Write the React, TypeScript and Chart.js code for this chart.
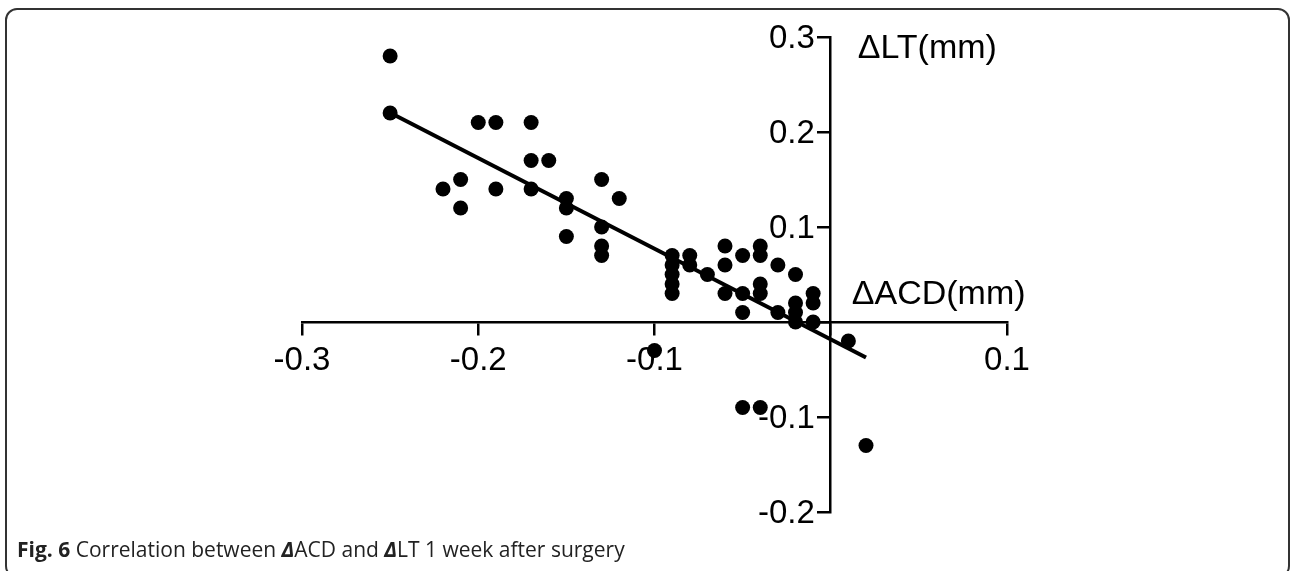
import React, { useEffect, useRef } from "react";
import { Chart, registerables } from "chart.js";

Chart.register(...registerables);

// ΔACD (mm) values, x axis
const deltaACD: number[] = [
  -0.25, -0.25, -0.2, -0.19, -0.17, -0.17, -0.16, -0.21, -0.22, -0.21,
  -0.19, -0.17, -0.15, -0.15, -0.13, -0.12, -0.15, -0.13, -0.13, -0.13,
  -0.09, -0.09, -0.09, -0.09, -0.09, -0.08, -0.08, -0.07, -0.06, -0.06,
  -0.06, -0.05, -0.05, -0.05, -0.04, -0.04, -0.04, -0.04, -0.03, -0.03,
  -0.02, -0.02, -0.02, -0.02, -0.01, -0.01, -0.01, 0.01, -0.1, -0.05,
  -0.04, 0.02,
];

// ΔLT (mm) values, y axis
const deltaLT: number[] = [
  0.28, 0.22, 0.21, 0.21, 0.21, 0.17, 0.17, 0.15, 0.14, 0.12,
  0.14, 0.14, 0.13, 0.12, 0.15, 0.13, 0.09, 0.1, 0.08, 0.07,
  0.07, 0.06, 0.05, 0.04, 0.03, 0.07, 0.06, 0.05, 0.08, 0.06,
  0.03, 0.07, 0.03, 0.01, 0.08, 0.07, 0.04, 0.03, 0.06, 0.01,
  0.05, 0.02, 0.01, 0.0, 0.03, 0.02, 0.0, -0.02, -0.03, -0.09,
  -0.09, -0.13,
];

const xTickValues: number[] = [-0.3, -0.2, -0.1, 0, 0.1];
const yTickValues: number[] = [-0.2, -0.1, 0, 0.1, 0.2, 0.3];
const xAxisTitle = "ΔACD(mm)";
const yAxisTitle = "ΔLT(mm)";

function linearFit(xs: number[], ys: number[]) {
  const n = xs.length;
  const mx = xs.reduce((a, b) => a + b, 0) / n;
  const my = ys.reduce((a, b) => a + b, 0) / n;
  let sxy = 0;
  let sxx = 0;
  for (let i = 0; i < n; i++) {
    sxy += (xs[i] - mx) * (ys[i] - my);
    sxx += (xs[i] - mx) * (xs[i] - mx);
  }
  const slope = sxy / sxx;
  return { slope, intercept: my - slope * mx };
}

const fmt = (v: number) => (Math.abs(v) < 1e-9 ? "" : (Math.round(v * 10) / 10).toFixed(1));
const FONT_FAMILY = '"Liberation Sans", Arial, sans-serif';
const TICK_LEN = 12;

const axisTextPlugin = {
  id: "axisText",
  afterDraw(chart: any) {
    const { ctx, scales } = chart;
    const xs = scales.x;
    const ys = scales.y;
    const x0 = xs.getPixelForValue(0);
    ctx.save();
    ctx.fillStyle = "#000";
    // y tick labels, left of the crossing axis
    ctx.font = `33px ${FONT_FAMILY}`;
    ctx.textAlign = "right";
    ctx.textBaseline = "middle";
    ys.ticks.forEach((t: any) => {
      const label = fmt(t.value);
      if (label) ctx.fillText(label, x0 - TICK_LEN - 4, ys.getPixelForValue(t.value) + 2);
    });
    // axis titles
    ctx.font = `34px ${FONT_FAMILY}`;
    ctx.textAlign = "left";
    ctx.textBaseline = "alphabetic";
    ctx.fillText(yAxisTitle, x0 + 27, ys.getPixelForValue(0.3) + 21);
    ctx.fillText(xAxisTitle, x0 + 21, ys.getPixelForValue(0) - 18);
    ctx.restore();
  },
};

export default function App() {
  const ref = useRef<HTMLCanvasElement | null>(null);

  useEffect(() => {
    if (!ref.current) return;
    const points = deltaACD.map((x, i) => ({ x, y: deltaLT[i] }));
    const { slope, intercept } = linearFit(deltaACD, deltaLT);
    const xMin = Math.min(...deltaACD);
    const xMax = Math.max(...deltaACD);
    const fitLine = [
      { x: xMin, y: slope * xMin + intercept },
      { x: xMax, y: slope * xMax + intercept },
    ];
    const tickFont = { family: FONT_FAMILY, size: 33 };
    const chart = new Chart(ref.current, {
      type: "scatter",
      data: {
        datasets: [
          {
            type: "line",
            data: fitLine,
            borderColor: "#000",
            borderWidth: 4,
            pointRadius: 0,
            fill: false,
            order: 2,
          } as any,
          {
            type: "scatter",
            data: points,
            backgroundColor: "#000",
            borderWidth: 0,
            pointRadius: 7.5,
            order: 1,
          },
        ],
      },
      options: {
        animation: false,
        responsive: false,
        maintainAspectRatio: false,
        devicePixelRatio: 1,
        layout: { padding: { left: 302, right: 283, top: 37, bottom: 59 } },
        plugins: { legend: { display: false }, tooltip: { enabled: false } },
        scales: {
          x: {
            type: "linear",
            min: -0.3,
            max: 0.1,
            position: { y: 0 } as any,
            afterBuildTicks: (s: any) => {
              s.ticks = xTickValues.map((v) => ({ value: v }));
            },
            ticks: {
              callback: (v: any) => fmt(Number(v)),
              color: "#000",
              font: tickFont,
              padding: 7,
              maxRotation: 0,
              autoSkip: false,
            },
            grid: {
              drawOnChartArea: false,
              drawTicks: true,
              tickLength: TICK_LEN,
              color: "#000",
              lineWidth: 2.5,
            },
            border: { display: true, color: "#000", width: 2.5 },
          },
          y: {
            type: "linear",
            min: -0.2,
            max: 0.3,
            position: { x: 0 } as any,
            afterBuildTicks: (s: any) => {
              s.ticks = yTickValues.map((v) => ({ value: v }));
            },
            ticks: {
              display: false,
              autoSkip: false,
            },
            grid: {
              drawOnChartArea: false,
              drawTicks: true,
              tickLength: TICK_LEN,
              color: "#000",
              lineWidth: 2.5,
            },
            border: { display: true, color: "#000", width: 2.5 },
          },
        },
      },
      plugins: [axisTextPlugin],
    });
    return () => chart.destroy();
  }, []);

  return (
    <div
      style={{
        position: "fixed",
        left: 0,
        top: 0,
        width: 1290,
        height: 571,
        background: "#fff",
        overflow: "hidden",
      }}
    >
      <div
        style={{
          position: "absolute",
          left: 5,
          top: 8,
          width: 1285,
          height: 570,
          boxSizing: "border-box",
          border: "2px solid #333",
          borderRadius: 12,
        }}
      />
      <canvas
        ref={ref}
        width={1290}
        height={571}
        style={{ position: "absolute", left: 0, top: 0, width: 1290, height: 571 }}
      />
      <div
        style={{
          position: "absolute",
          left: 17,
          top: 535,
          fontFamily: '"Open Sans", sans-serif',
          fontSize: 21,
          lineHeight: "28px",
          color: "#222",
          whiteSpace: "nowrap",
        }}
      >
        <b>Fig. 6</b> Correlation between <b><i>Δ</i></b>ACD and <b><i>Δ</i></b>LT 1 week after surgery
      </div>
    </div>
  );
}
